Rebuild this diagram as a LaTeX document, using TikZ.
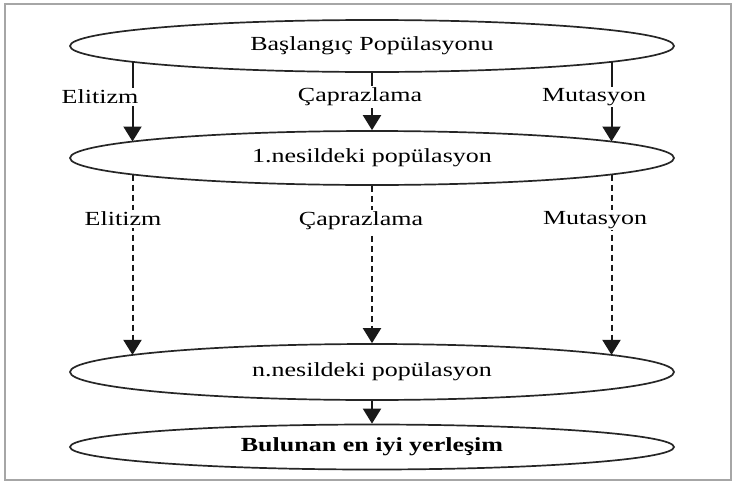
\documentclass[tikz,border=0pt]{standalone}
\usepackage{fontspec}
\setmainfont{Liberation Serif}[FakeStretch=1.3]
\usetikzlibrary{shapes.geometric,arrows.meta,calc}
\begin{document}
\begin{tikzpicture}[x=1pt,y=-1pt,
  ell/.style={draw=black!85, ellipse, minimum width=604pt, inner sep=0pt, line width=1.7pt, font=\fontsize{20}{24}\selectfont},
  lab/.style={fill=white, inner sep=1.5pt, font=\fontsize{20}{24}\selectfont},
  arr/.style={draw=black!90, line width=2pt, -{Triangle[width=18pt,length=15pt]}},
  darr/.style={arr, dash pattern=on 6pt off 4pt}]
\useasboundingbox (0,0) rectangle (736,482);
\draw[gray!70, line width=2.5pt] (5,4) rectangle (731,480);
\node[ell, minimum height=52pt] (e1) at (372,46) {Başlangıç Popülasyonu};
\node[ell, minimum height=54pt] (e2) at (372,158) {1.nesildeki popülasyon};
\node[ell, minimum height=56pt] (e3) at (372,372) {n.nesildeki popülasyon};
\node[ell, minimum height=45pt, font=\fontsize{20}{24}\selectfont\bfseries] (e4) at (372,447) {Bulunan en iyi yerleşim};
% solid arrows
\draw[arr] ($(e1.center)+(-239.5,15.9)$) -- ($(e2.center)+(-239.5,-16.5)$);
\draw[arr] (e1.south) -- (e2.north);
\draw[arr] ($(e1.center)+(239.5,15.9)$) -- ($(e2.center)+(239.5,-16.5)$);
% dashed arrows
\draw[darr] ($(e2.center)+(-239.5,16.5)$) -- ($(e3.center)+(-239.5,-17.1)$);
\draw[darr] (e2.south) -- (e3.north);
\draw[darr] ($(e2.center)+(239.5,16.5)$) -- ($(e3.center)+(239.5,-17.1)$);
% final arrow
\draw[arr] (e3.south) -- (e4.north);
% labels
\node[lab] (l1) at (100,97) {Elitizm};
\node[lab] (l2) at (360,97) {Çaprazlama};
\node[lab] (l3) at (594,97) {Mutasyon};
\node[lab] (l4) at (123,219) {Elitizm};
\node[lab] (l5) at (361,221) {Çaprazlama};
\node[lab] (l6) at (595,220) {Mutasyon};
\end{tikzpicture}
\end{document}
